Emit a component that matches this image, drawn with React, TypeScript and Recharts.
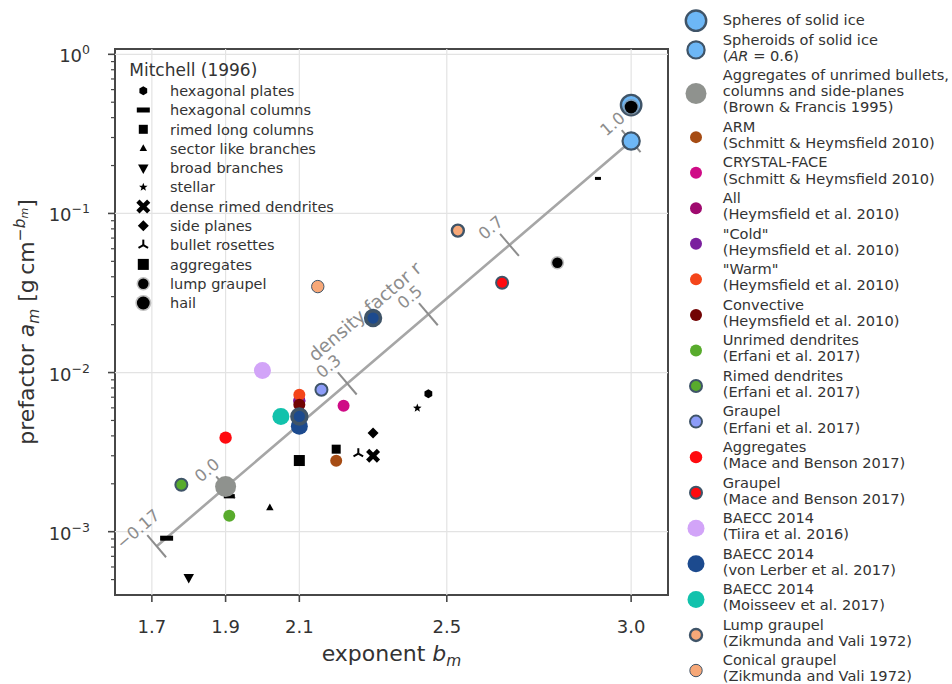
import React from 'react';
import {
  ScatterChart,
  Scatter,
  XAxis,
  YAxis,
  ReferenceLine,
  ReferenceArea,
  Legend,
} from 'recharts';

// ---------- layout ----------
const W = 952;
const H = 684;
const MARGIN = { top: 49, right: 284, bottom: 0, left: 0 };
const Y_AXIS_W = 115;
const X_AXIS_H = 89;
const PLOT_W = W - MARGIN.left - MARGIN.right - Y_AXIS_W;
const PLOT_H = H - MARGIN.top - MARGIN.bottom - X_AXIS_H;

const FONT = '"DejaVu Sans", Verdana, sans-serif';
const TEXT = '#333333';
const AXIS = '#474747';
const GRID = '#e3e3e3';
const EDGE = '#3f5468';

// ---------- axes ----------
const X_DOMAIN = [1.6, 3.1];
const Y_DOMAIN = [4e-4, 1.08];
const X_TICKS = [1.7, 1.9, 2.1, 2.5, 3.0];
const Y_DECADES = [1e-3, 1e-2, 1e-1, 1];

// major decades plus the 2..9 minor ticks that fall inside the range
const Y_TICKS: number[] = (() => {
  const out: number[] = [];
  for (let e = -4; e <= 0; e++) {
    for (let m = 1; m <= 9; m++) {
      const v = Number((m * Math.pow(10, e)).toPrecision(3));
      if (v > Y_DOMAIN[0] * 1.001 && v < Y_DOMAIN[1]) out.push(v);
    }
  }
  return out;
})();

// ---------- Mitchell (1996) power laws m = a D^b ----------
const hexPlates = [{ b: 2.45, a: 0.00736 }];
const hexColumns = [
  { b: 1.74, a: 0.00091 },
  { b: 1.91, a: 0.00167 },
  { b: 2.91, a: 0.166 },
];
const rimedLongColumns = [{ b: 2.2, a: 0.0033 }];
const sectorBranches = [{ b: 2.02, a: 0.00141 }];
const broadBranches = [{ b: 1.8, a: 0.000516 }];
const stellarCrystals = [{ b: 2.42, a: 0.00598 }];
const denseRimedDendrites = [{ b: 2.3, a: 0.003 }];
const sidePlanes = [{ b: 2.3, a: 0.00417 }];
const bulletRosettes = [{ b: 2.26, a: 0.00309 }];
const aggregatesMitchell = [{ b: 2.1, a: 0.0028 }];
const lumpGraupelMitchell = [{ b: 2.8, a: 0.049 }];
const hailMitchell = [{ b: 3.0, a: 0.466 }];

// ---------- other studies ----------
const spheresIce = [{ b: 3.0, a: 0.48 }];
const spheroidsIce = [{ b: 3.0, a: 0.285 }];
const brownFrancis = [{ b: 1.9, a: 0.00192 }];
const armSH = [{ b: 2.2, a: 0.00279 }];
const crystalFaceSH = [{ b: 2.22, a: 0.00618 }];
const heymsAll = [{ b: 2.1, a: 0.0067 }];
const heymsCold = [{ b: 2.1, a: 0.0066 }];
const heymsWarm = [{ b: 2.1, a: 0.00726 }];
const heymsConvective = [{ b: 2.1, a: 0.00628 }];
const unrimedDendrites = [{ b: 1.91, a: 0.00126 }];
const rimedDendrites = [{ b: 1.78, a: 0.00197 }];
const graupelErfani = [{ b: 2.16, a: 0.0078 }];
const aggregatesMace = [{ b: 1.9, a: 0.0039 }];
const graupelMace = [{ b: 2.65, a: 0.0367 }];
const baeccTiira = [{ b: 2.0, a: 0.0103 }];
const baeccVonLerber = [{ b: 2.1, a: 0.0046 }];
const baeccVonLerberRimed = [
  { b: 2.1, a: 0.0053 },
  { b: 2.3, a: 0.022 },
];
const baeccMoisseev = [{ b: 2.05, a: 0.0053 }];
const lumpGraupelZik = [{ b: 2.53, a: 0.078 }];
const conicalGraupelZik = [{ b: 2.15, a: 0.0347 }];

// ---------- density factor line ----------
const densityR = [-0.17, 0.0, 0.3, 0.5, 0.7, 1.0];
const densityB = [1.713, 1.9, 2.23, 2.45, 2.67, 3.0];
const densityA = [0.00081, 0.0019, 0.00854, 0.02326, 0.0634, 0.285];
const densityData = densityR.map((r, i) => ({ r, b: densityB[i], a: densityA[i] }));
const densityTitleAt = [{ b: 2.354, a: 0.01502 }];

// ---------- markers ----------
type Marker = {
  kind: string;
  r?: number;
  s?: number;
  w?: number;
  h?: number;
  fill?: string;
  stroke?: string;
  sw?: number;
};

function renderMarker(mk: Marker, cx: number, cy: number, widths?: number[], idx = 0) {
  const fill = mk.fill ?? '#000';
  switch (mk.kind) {
    case 'circle':
      return (
        <circle
          cx={cx}
          cy={cy}
          r={mk.r}
          fill={fill}
          stroke={mk.stroke ?? 'none'}
          strokeWidth={mk.sw ?? 0}
        />
      );
    case 'halo':
      return (
        <g>
          <circle cx={cx} cy={cy} r={(mk.r as number) + 1.6} fill="#8a8a8a" opacity={0.55} />
          <circle cx={cx} cy={cy} r={mk.r} fill="#000" />
        </g>
      );
    case 'hex': {
      const R = (mk.s as number) / 2;
      const pts = [0, 1, 2, 3, 4, 5]
        .map((i) => {
          const t = ((-90 + 60 * i) * Math.PI) / 180;
          return `${cx + R * Math.cos(t)},${cy + R * Math.sin(t)}`;
        })
        .join(' ');
      return <polygon points={pts} fill={fill} />;
    }
    case 'bar': {
      const w = widths ? widths[idx] ?? mk.w : mk.w;
      const h = w && mk.w ? ((mk.h as number) * Math.max(0.6, w / mk.w)) : mk.h;
      return <rect x={cx - (w as number) / 2} y={cy - (h as number) / 2} width={w} height={h} fill={fill} />;
    }
    case 'square': {
      const s = mk.s as number;
      return <rect x={cx - s / 2} y={cy - s / 2} width={s} height={s} fill={fill} />;
    }
    case 'triUp': {
      const s = mk.s as number;
      return (
        <polygon
          points={`${cx},${cy - s * 0.58} ${cx - s / 2},${cy + s * 0.32} ${cx + s / 2},${cy + s * 0.32}`}
          fill={fill}
        />
      );
    }
    case 'triDown': {
      const s = mk.s as number;
      return (
        <polygon
          points={`${cx},${cy + s * 0.58} ${cx - s / 2},${cy - s * 0.32} ${cx + s / 2},${cy - s * 0.32}`}
          fill={fill}
        />
      );
    }
    case 'star': {
      const R = (mk.s as number) / 2;
      const pts: string[] = [];
      for (let i = 0; i < 10; i++) {
        const rr = i % 2 === 0 ? R : R * 0.42;
        const t = ((-90 + 36 * i) * Math.PI) / 180;
        pts.push(`${cx + rr * Math.cos(t)},${cy + rr * Math.sin(t)}`);
      }
      return <polygon points={pts.join(' ')} fill={fill} />;
    }
    case 'xbold': {
      const d = (mk.s as number) * 0.36;
      const sw = (mk.s as number) * 0.3;
      return (
        <g stroke={fill} strokeWidth={sw}>
          <line x1={cx - d} y1={cy - d} x2={cx + d} y2={cy + d} />
          <line x1={cx - d} y1={cy + d} x2={cx + d} y2={cy - d} />
        </g>
      );
    }
    case 'diamond': {
      const R = (mk.s as number) / 2;
      return (
        <polygon
          points={`${cx},${cy - R} ${cx + R},${cy} ${cx},${cy + R} ${cx - R},${cy}`}
          fill={fill}
        />
      );
    }
    case 'tri': {
      const R = (mk.s as number) / 2;
      return (
        <g stroke={fill} strokeWidth={2}>
          <line x1={cx} y1={cy} x2={cx} y2={cy - R} />
          <line x1={cx} y1={cy} x2={cx - R * 0.87} y2={cy + R * 0.5} />
          <line x1={cx} y1={cy} x2={cx + R * 0.87} y2={cy + R * 0.5} />
        </g>
      );
    }
    default:
      return null;
  }
}

// ---------- series tables ----------
type Series = {
  key: string;
  label: string;
  data: { b: number; a: number }[];
  marker: Marker;
  widths?: number[];
};

const MITCHELL: Series[] = [
  { key: 'hexPlates', label: 'hexagonal plates', data: hexPlates, marker: { kind: 'hex', s: 9 } },
  {
    key: 'hexColumns',
    label: 'hexagonal columns',
    data: hexColumns,
    marker: { kind: 'bar', w: 13, h: 5 },
    widths: [13, 11, 6],
  },
  { key: 'rimedLongColumns', label: 'rimed long columns', data: rimedLongColumns, marker: { kind: 'square', s: 9 } },
  { key: 'sectorBranches', label: 'sector like branches', data: sectorBranches, marker: { kind: 'triUp', s: 7.5 } },
  { key: 'broadBranches', label: 'broad branches', data: broadBranches, marker: { kind: 'triDown', s: 10.5 } },
  { key: 'stellar', label: 'stellar', data: stellarCrystals, marker: { kind: 'star', s: 9 } },
  {
    key: 'denseRimedDendrites',
    label: 'dense rimed dendrites',
    data: denseRimedDendrites,
    marker: { kind: 'xbold', s: 15 },
  },
  { key: 'sidePlanes', label: 'side planes', data: sidePlanes, marker: { kind: 'diamond', s: 11 } },
  { key: 'bulletRosettes', label: 'bullet rosettes', data: bulletRosettes, marker: { kind: 'tri', s: 11 } },
  { key: 'aggregatesMitchell', label: 'aggregates', data: aggregatesMitchell, marker: { kind: 'square', s: 11 } },
  { key: 'lumpGraupelMitchell', label: 'lump graupel', data: lumpGraupelMitchell, marker: { kind: 'halo', r: 5.2 } },
  { key: 'hailMitchell', label: 'hail', data: hailMitchell, marker: { kind: 'halo', r: 6.4 } },
];

const STUDIES: Series[] = [
  {
    key: 'spheres',
    label: 'Spheres of solid ice',
    data: spheresIce,
    marker: { kind: 'circle', r: 10.2, fill: '#6db7f6', stroke: EDGE, sw: 2.4 },
  },
  {
    key: 'spheroids',
    label: 'Spheroids of solid ice\n($AR$ = 0.6)',
    data: spheroidsIce,
    marker: { kind: 'circle', r: 8.6, fill: '#6db7f6', stroke: EDGE, sw: 2.2 },
  },
  {
    key: 'brownFrancis',
    label: 'Aggregates of unrimed bullets,\ncolumns and side-planes\n(Brown & Francis 1995)',
    data: brownFrancis,
    marker: { kind: 'circle', r: 10.5, fill: '#8f928e' },
  },
  {
    key: 'arm',
    label: 'ARM\n(Schmitt & Heymsfield 2010)',
    data: armSH,
    marker: { kind: 'circle', r: 6, fill: '#a64c14' },
  },
  {
    key: 'crystalFace',
    label: 'CRYSTAL-FACE\n(Schmitt & Heymsfield 2010)',
    data: crystalFaceSH,
    marker: { kind: 'circle', r: 6, fill: '#cf0b86' },
  },
  {
    key: 'heymsAll',
    label: 'All\n(Heymsfield et al. 2010)',
    data: heymsAll,
    marker: { kind: 'circle', r: 6, fill: '#9f0a6f' },
  },
  {
    key: 'heymsCold',
    label: '"Cold"\n(Heymsfield et al. 2010)',
    data: heymsCold,
    marker: { kind: 'circle', r: 6, fill: '#7b1f9e' },
  },
  {
    key: 'heymsWarm',
    label: '"Warm"\n(Heymsfield et al. 2010)',
    data: heymsWarm,
    marker: { kind: 'circle', r: 6, fill: '#f4451a' },
  },
  {
    key: 'heymsConvective',
    label: 'Convective\n(Heymsfield et al. 2010)',
    data: heymsConvective,
    marker: { kind: 'circle', r: 6, fill: '#720404' },
  },
  {
    key: 'unrimedDendrites',
    label: 'Unrimed dendrites\n(Erfani et al. 2017)',
    data: unrimedDendrites,
    marker: { kind: 'circle', r: 6, fill: '#58ab2c' },
  },
  {
    key: 'rimedDendrites',
    label: 'Rimed dendrites\n(Erfani et al. 2017)',
    data: rimedDendrites,
    marker: { kind: 'circle', r: 6, fill: '#58ab2c', stroke: EDGE, sw: 2 },
  },
  {
    key: 'graupelErfani',
    label: 'Graupel\n(Erfani et al. 2017)',
    data: graupelErfani,
    marker: { kind: 'circle', r: 6, fill: '#8c9cf8', stroke: EDGE, sw: 2 },
  },
  {
    key: 'aggregatesMace',
    label: 'Aggregates\n(Mace and Benson 2017)',
    data: aggregatesMace,
    marker: { kind: 'circle', r: 6.2, fill: '#ff0a0f' },
  },
  {
    key: 'graupelMace',
    label: 'Graupel\n(Mace and Benson 2017)',
    data: graupelMace,
    marker: { kind: 'circle', r: 6, fill: '#ff0a0f', stroke: EDGE, sw: 2 },
  },
  {
    key: 'tiira',
    label: 'BAECC 2014\n(Tiira et al. 2016)',
    data: baeccTiira,
    marker: { kind: 'circle', r: 8.5, fill: '#d2a4f8' },
  },
  {
    key: 'vonLerber',
    label: 'BAECC 2014\n(von Lerber et al. 2017)',
    data: baeccVonLerber,
    marker: { kind: 'circle', r: 8.5, fill: '#1c4a8e' },
  },
  {
    key: 'moisseev',
    label: 'BAECC 2014\n(Moisseev et al. 2017)',
    data: baeccMoisseev,
    marker: { kind: 'circle', r: 8.5, fill: '#12c2ac' },
  },
  {
    key: 'lumpZik',
    label: 'Lump graupel\n(Zikmunda and Vali 1972)',
    data: lumpGraupelZik,
    marker: { kind: 'circle', r: 6, fill: '#f7a878', stroke: EDGE, sw: 2.4 },
  },
  {
    key: 'conicalZik',
    label: 'Conical graupel\n(Zikmunda and Vali 1972)',
    data: conicalGraupelZik,
    marker: { kind: 'circle', r: 6.2, fill: '#f7a878', stroke: EDGE, sw: 1 },
  },
];

const VON_LERBER_RIMED: Series = {
  key: 'vonLerberRimed',
  label: '',
  data: baeccVonLerberRimed,
  marker: { kind: 'circle', r: 7.4, fill: '#1c4a8e', stroke: EDGE, sw: 3.6 },
};

// draw order: solid ice first, then Mitchell, then the observational fits
const byKey = (k: string) => STUDIES.find((s) => s.key === k) as Series;
const DRAW_ORDER: Series[] = [
  byKey('spheres'),
  byKey('spheroids'),
  ...MITCHELL,
  ...STUDIES.filter((s) => s.key !== 'spheres' && s.key !== 'spheroids'),
  VON_LERBER_RIMED,
];

// ---------- density factor geometry ----------
const DENSITY_ANGLE = (() => {
  const pxPerB = PLOT_W / (X_DOMAIN[1] - X_DOMAIN[0]);
  const pxPerDecade = PLOT_H / (Math.log10(Y_DOMAIN[1]) - Math.log10(Y_DOMAIN[0]));
  const first = densityData[0];
  const last = densityData[densityData.length - 1];
  const slope = (Math.log10(last.a) - Math.log10(first.a)) / (last.b - first.b);
  return Math.atan2(slope * pxPerDecade, pxPerB);
})();
const SIN = Math.sin(DENSITY_ANGLE);
const COS = Math.cos(DENSITY_ANGLE);
const DEG = (-DENSITY_ANGLE * 180) / Math.PI;
const DENSITY_GRAY = '#8d8d8d';

const fmtR = (r: number) =>
  (Math.abs(r * 10 - Math.round(r * 10)) < 1e-9 ? r.toFixed(1) : r.toFixed(2)).replace('-', '\u2212');

function DensityTick(props: any) {
  const { cx, cy, payload } = props;
  if (cx == null || cy == null) return null;
  const nx = -SIN;
  const ny = -COS;
  const half = 14.5;
  const lx = cx + nx * 25 - COS * 3;
  const ly = cy + ny * 25 + SIN * 3;
  return (
    <g>
      <line
        x1={cx - nx * half}
        y1={cy - ny * half}
        x2={cx + nx * half}
        y2={cy + ny * half}
        stroke={DENSITY_GRAY}
        strokeWidth={2}
      />
      <text
        x={lx}
        y={ly}
        transform={`rotate(${DEG}, ${lx}, ${ly})`}
        textAnchor="middle"
        dominantBaseline="central"
        fontSize={16.5}
        fill={DENSITY_GRAY}
        fontFamily={FONT}
      >
        {fmtR(payload.r)}
      </text>
    </g>
  );
}

function DensityTitle(props: any) {
  const { cx, cy } = props;
  if (cx == null || cy == null) return null;
  const lx = cx - SIN * 43.5;
  const ly = cy - COS * 43.5;
  return (
    <text
      x={lx}
      y={ly}
      transform={`rotate(${DEG}, ${lx}, ${ly})`}
      textAnchor="middle"
      dominantBaseline="central"
      fontSize={18.5}
      fill={DENSITY_GRAY}
      fontFamily={FONT}
    >
      density factor r
    </text>
  );
}

// ---------- axis pieces ----------
function LogTick(props: any) {
  const { x, y, payload } = props;
  const v = payload.value as number;
  const lg = Math.log10(v);
  const exp = Math.round(lg);
  const major = Math.abs(lg - exp) < 1e-6;
  const len = major ? 7 : 4;
  return (
    <g>
      <line x1={x - len} y1={y} x2={x} y2={y} stroke={AXIS} strokeWidth={major ? 1.6 : 1.2} />
      {major && (
        <text x={x - 25} y={y} textAnchor="end" fill={TEXT} fontSize={18} fontFamily={FONT}>
          <tspan dy={8}>10</tspan>
          <tspan dy={-8} fontSize={12.5}>
            {exp === 0 ? '0' : `\u2212${-exp}`}
          </tspan>
        </text>
      )}
    </g>
  );
}

function XTitle(props: any) {
  const vb = props.viewBox || { x: Y_AXIS_W, y: MARGIN.top + PLOT_H, width: PLOT_W };
  const cx = vb.x + vb.width / 2;
  return (
    <text x={cx} y={661} textAnchor="middle" fill={TEXT} fontSize={22} fontFamily={FONT}>
      exponent{' '}
      <tspan fontStyle="italic">b</tspan>
      <tspan fontStyle="italic" fontSize={15.4} dy={5}>
        m
      </tspan>
    </text>
  );
}

function YTitle(props: any) {
  const vb = props.viewBox || { y: MARGIN.top, height: PLOT_H };
  const cy = vb.y + vb.height / 2;
  const bx = 33.5;
  return (
    <text
      x={bx}
      y={cy}
      transform={`rotate(-90, ${bx}, ${cy})`}
      textAnchor="middle"
      fill={TEXT}
      fontSize={22}
      fontFamily={FONT}
    >
      prefactor <tspan fontStyle="italic">a</tspan>
      <tspan fontStyle="italic" fontSize={15.4} dy={5}>
        m
      </tspan>
      <tspan dy={-5}>{' [g\u2009cm'}</tspan>
      <tspan fontSize={15.4} dy={-9}>
        {'\u2212'}
      </tspan>
      <tspan fontSize={15.4} fontStyle="italic">
        b
      </tspan>
      <tspan fontSize={11} fontStyle="italic" dy={3}>
        m
      </tspan>
      <tspan dy={6}>]</tspan>
    </text>
  );
}

// ---------- legends ----------
function rich(line: string) {
  return line.split('$').map((seg, i) =>
    i % 2 === 1 ? (
      <tspan key={i} fontStyle="italic">
        {seg}
      </tspan>
    ) : (
      <tspan key={i}>{seg}</tspan>
    ),
  );
}

const RL = { markerX: 696, textX: 722.7, firstY: 20, line: 16.1, gap: 3.36, fs: 14.6 };
const ML = { titleX: 129.3, titleY: 70, titleFs: 17, firstY: 90.7, step: 19.3, markerX: 143.3, textX: 170, fs: 14.5 };

function LegendLayer() {
  const right: React.ReactNode[] = [];
  let y = RL.firstY;
  STUDIES.forEach((s) => {
    const lines = s.label.split('\n');
    const top = y;
    const bottom = y + (lines.length - 1) * RL.line;
    const my = (top + bottom) / 2 + (lines.length > 1 ? 2.4 : 0.7);
    right.push(
      <g key={s.key}>
        {renderMarker(s.marker, RL.markerX, my)}
        {lines.map((ln, j) => (
          <text
            key={j}
            x={RL.textX}
            y={top + j * RL.line + 0.36 * RL.fs}
            fontSize={RL.fs}
            fill={TEXT}
            fontFamily={FONT}
          >
            {rich(ln)}
          </text>
        ))}
      </g>,
    );
    y = bottom + RL.line + RL.gap;
  });

  return (
    <svg width={W} height={H} style={{ position: 'absolute', left: 0, top: 0, overflow: 'visible' }}>
      <text x={ML.titleX} y={ML.titleY + 0.36 * ML.titleFs} fontSize={ML.titleFs} fill={TEXT} fontFamily={FONT}>
        Mitchell (1996)
      </text>
      {MITCHELL.map((s, i) => {
        const yc = ML.firstY + i * ML.step;
        return (
          <g key={s.key}>
            {renderMarker(s.marker, ML.markerX, yc, s.widths, 0)}
            <text x={ML.textX} y={yc + 0.36 * ML.fs} fontSize={ML.fs} fill={TEXT} fontFamily={FONT}>
              {s.label}
            </text>
          </g>
        );
      })}
      {right}
    </svg>
  );
}

export default function App() {
  return (
    <div style={{ position: 'absolute', left: 0, top: 0, width: W, height: H, background: '#fff', fontFamily: FONT }}>
      <ScatterChart width={W} height={H} margin={MARGIN}>
        <XAxis
          type="number"
          dataKey="b"
          domain={X_DOMAIN}
          ticks={X_TICKS}
          interval={0}
          allowDataOverflow
          height={X_AXIS_H}
          axisLine={false}
          tickLine={{ stroke: AXIS, strokeWidth: 1.6 }}
          tickSize={7}
          tickMargin={18}
          tick={{ fontSize: 18, fill: TEXT, fontFamily: FONT }}
          tickFormatter={(v: number) => v.toFixed(1)}
          label={{ content: (p: any) => <XTitle {...p} /> }}
        />
        <YAxis
          type="number"
          dataKey="a"
          scale="log"
          domain={Y_DOMAIN}
          ticks={Y_TICKS}
          interval={0}
          allowDataOverflow
          width={Y_AXIS_W}
          axisLine={false}
          tickLine={false}
          tickSize={0}
          tickMargin={0}
          tick={<LogTick />}
          label={{ content: (p: any) => <YTitle {...p} /> }}
        />

        {X_TICKS.map((v) => (
          <ReferenceLine key={`gx${v}`} x={v} stroke={GRID} strokeWidth={1.2} />
        ))}
        {Y_DECADES.map((v) => (
          <ReferenceLine key={`gy${v}`} y={v} stroke={GRID} strokeWidth={1.2} />
        ))}

        <Scatter
          name="density factor"
          data={densityData}
          fill="#a6a6a6"
          line={{ stroke: '#a6a6a6', strokeWidth: 2.6 }}
          lineType="joint"
          shape={(p: any) => <DensityTick {...p} />}
          legendType="none"
          isAnimationActive={false}
        />
        <Scatter
          name="density factor label"
          data={densityTitleAt}
          shape={(p: any) => <DensityTitle {...p} />}
          legendType="none"
          isAnimationActive={false}
        />

        {DRAW_ORDER.map((s) => (
          <Scatter
            key={s.key}
            name={s.key}
            data={s.data}
            fill={s.marker.fill ?? '#000'}
            isAnimationActive={false}
            shape={(p: any) => {
              if (p.cx == null || p.cy == null) return <g />;
              const idx = Math.max(0, s.data.indexOf(p.payload));
              return renderMarker(s.marker, p.cx, p.cy, s.widths, idx);
            }}
          />
        ))}

        <ReferenceArea
          x1={X_DOMAIN[0]}
          x2={X_DOMAIN[1]}
          y1={Y_DOMAIN[0]}
          y2={Y_DOMAIN[1]}
          fill="none"
          stroke={AXIS}
          strokeWidth={2}
          ifOverflow="visible"
        />

        <Legend
          layout="vertical"
          align="center"
          verticalAlign="middle"
          wrapperStyle={{ left: 0, top: 0, width: W, height: H, pointerEvents: 'none' }}
          content={() => <LegendLayer />}
        />
      </ScatterChart>
    </div>
  );
}
